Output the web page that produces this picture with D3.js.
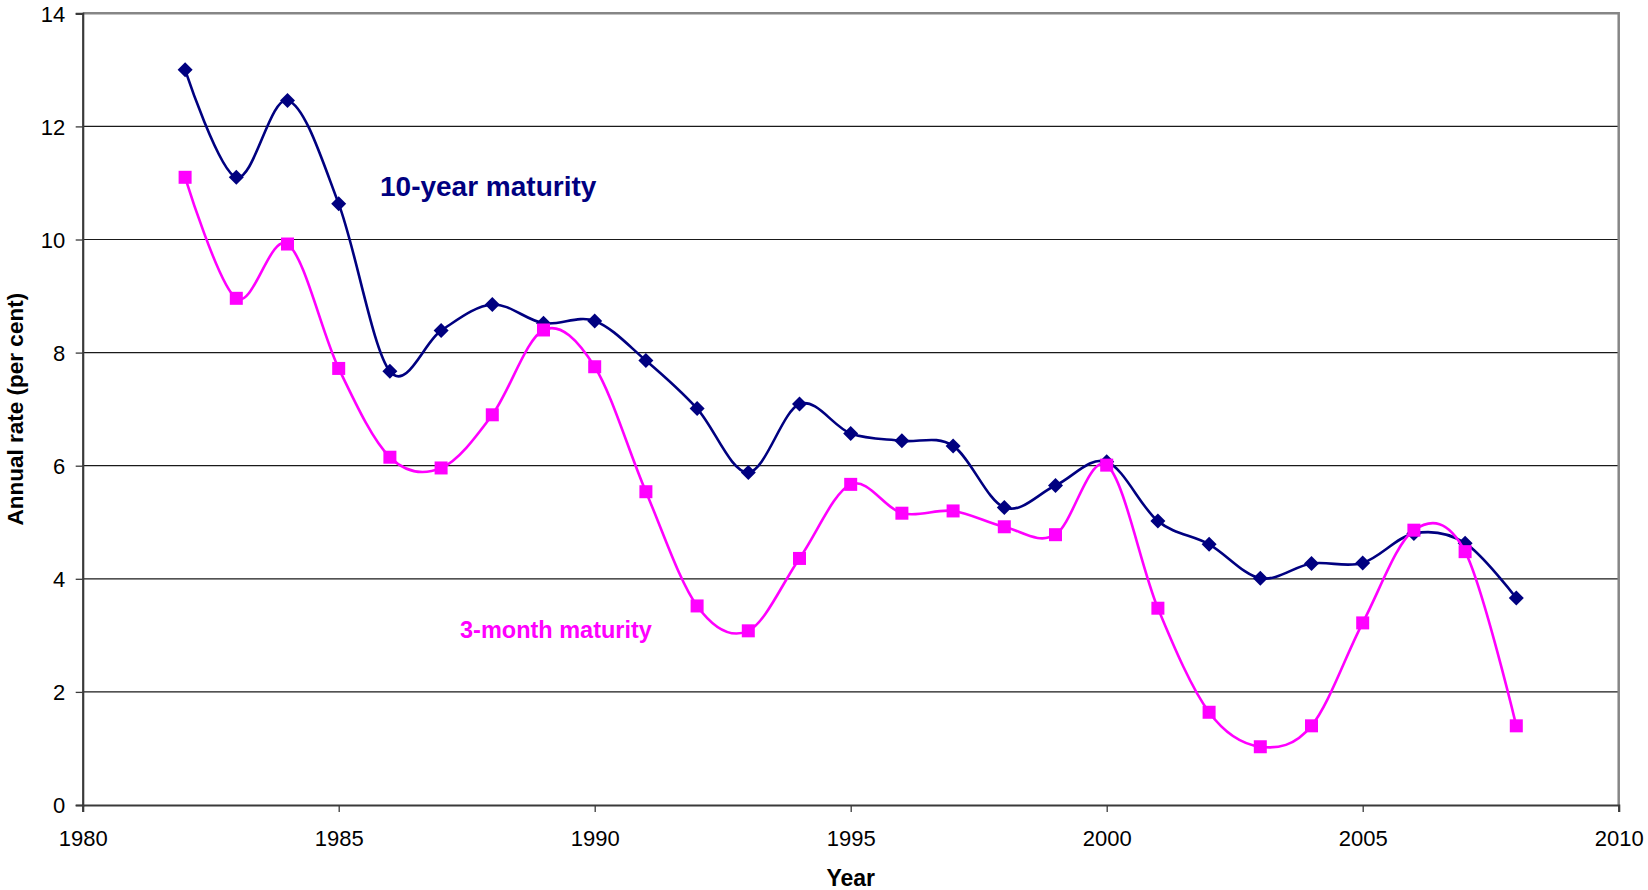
<!DOCTYPE html>
<html>
<head>
<meta charset="utf-8">
<script src="https://cdn.jsdelivr.net/npm/d3@7"></script>
<style>
  html, body { margin: 0; padding: 0; background: #fff; }
  svg { display: block; font-family: "Liberation Sans", Arial, sans-serif; }
</style>
</head>
<body>
<svg id="chart" width="1648" height="890"></svg>
<script>
// Annual interest rates, 1982-2008
const years = [1982, 1983, 1984, 1985, 1986, 1987, 1988, 1989, 1990, 1991,
               1992, 1993, 1994, 1995, 1996, 1997, 1998, 1999, 2000, 2001,
               2002, 2003, 2004, 2005, 2006, 2007, 2008];
const tenYear = [13.0, 11.1, 12.46, 10.63, 7.67, 8.39, 8.85, 8.52, 8.56, 7.86,
                 7.01, 5.88, 7.09, 6.57, 6.44, 6.35, 5.26, 5.65, 6.07, 5.02,
                 4.61, 4.01, 4.27, 4.28, 4.80, 4.63, 3.66];
const threeMonth = [11.1, 8.96, 9.92, 7.72, 6.15, 5.96, 6.90, 8.40, 7.75, 5.54,
                    3.52, 3.08, 4.36, 5.67, 5.16, 5.20, 4.92, 4.78, 6.01, 3.48,
                    1.64, 1.03, 1.40, 3.22, 4.86, 4.48, 1.40];
const xTicks = [1980, 1985, 1990, 1995, 2000, 2005, 2010];
const yTicks = [0, 2, 4, 6, 8, 10, 12, 14];
const yLabel = "Annual rate (per cent)";
const xLabel = "Year";
const seriesLabels = ["10-year maturity", "3-month maturity"];

const svg = d3.select("#chart");
const plotLeft = 82.7, plotRight = 1618.7, plotTop = 13.3, plotBottom = 805;

const x = d3.scaleLinear().domain([1980, 2010]).range([plotLeft, plotRight]);
const y = d3.scaleLinear().domain([0, 14]).range([plotBottom, plotTop]);

// Horizontal gridlines
svg.append("g")
  .selectAll("line")
  .data(yTicks.filter(d => d > 0 && d < 14))
  .join("line")
  .attr("x1", plotLeft).attr("x2", plotRight)
  .attr("y1", d => y(d)).attr("y2", d => y(d))
  .attr("stroke", "#1a1a1a").attr("stroke-width", 1.2);

// Plot frame: top and right edges
svg.append("path")
  .attr("d", `M${plotLeft},${y(14)}H${plotRight}V${plotBottom}`)
  .attr("fill", "none").attr("stroke", "#868686").attr("stroke-width", 2.5);

// Axes
const xAxis = svg.append("g")
  .attr("transform", `translate(0,${plotBottom})`)
  .call(d3.axisBottom(x).tickValues(xTicks).tickFormat(d3.format("d")).tickSizeOuter(0).tickSize(7));
xAxis.select(".domain").attr("stroke", "#3a3a3a").attr("stroke-width", 2.2);
xAxis.selectAll(".tick line").attr("stroke", "#3a3a3a").attr("stroke-width", 1.3);
xAxis.selectAll(".tick text")
  .attr("y", 41).attr("dy", 0)
  .attr("font-size", 22).attr("fill", "#000")
  .attr("font-family", "Liberation Sans, Arial, sans-serif");

const yAxis = svg.append("g")
  .attr("transform", `translate(${plotLeft},0)`)
  .call(d3.axisLeft(y).tickValues(yTicks).tickFormat(d3.format("d")).tickSizeOuter(0).tickSize(7));
yAxis.select(".domain").attr("stroke", "#3a3a3a").attr("stroke-width", 2.2);
yAxis.selectAll(".tick line").attr("stroke", "#3a3a3a").attr("stroke-width", 1.3);
yAxis.selectAll(".tick text")
  .attr("x", -17.5).attr("dy", "0.35em")
  .attr("font-size", 22).attr("fill", "#000")
  .attr("font-family", "Liberation Sans, Arial, sans-serif");

// Axis titles
svg.append("text")
  .attr("transform", `translate(23,${(plotTop + plotBottom) / 2}) rotate(-90)`)
  .attr("text-anchor", "middle")
  .attr("font-size", 22.5).attr("font-weight", "bold")
  .text(yLabel);

svg.append("text")
  .attr("x", (plotLeft + plotRight) / 2).attr("y", 886)
  .attr("text-anchor", "middle")
  .attr("font-size", 23).attr("font-weight", "bold")
  .text(xLabel);

// Smoothed series lines
const line = d3.line()
  .x((d, i) => x(years[i]))
  .y(d => y(d))
  .curve(d3.curveCatmullRom.alpha(0));

const navy = "#000080", magenta = "#FF00FF";

svg.append("path").datum(tenYear)
  .attr("d", line).attr("fill", "none")
  .attr("stroke", navy).attr("stroke-width", 2.6);

svg.append("g").selectAll("path")
  .data(tenYear)
  .join("path")
  .attr("transform", (d, i) => `translate(${x(years[i])},${y(d)})`)
  .attr("d", "M0,-7.5L7.5,0L0,7.5L-7.5,0Z")
  .attr("fill", navy);

svg.append("path").datum(threeMonth)
  .attr("d", line).attr("fill", "none")
  .attr("stroke", magenta).attr("stroke-width", 2.6);

svg.append("g").selectAll("rect")
  .data(threeMonth)
  .join("rect")
  .attr("x", (d, i) => x(years[i]) - 6.5)
  .attr("y", d => y(d) - 6.5)
  .attr("width", 13).attr("height", 13)
  .attr("fill", magenta);

// Series labels
svg.append("text")
  .attr("x", 380).attr("y", 196)
  .attr("font-size", 28).attr("font-weight", "bold")
  .attr("fill", navy)
  .text(seriesLabels[0]);

svg.append("text")
  .attr("x", 460).attr("y", 638)
  .attr("font-size", 23.5).attr("font-weight", "bold")
  .attr("fill", magenta)
  .text(seriesLabels[1]);
</script>
</body>
</html>
